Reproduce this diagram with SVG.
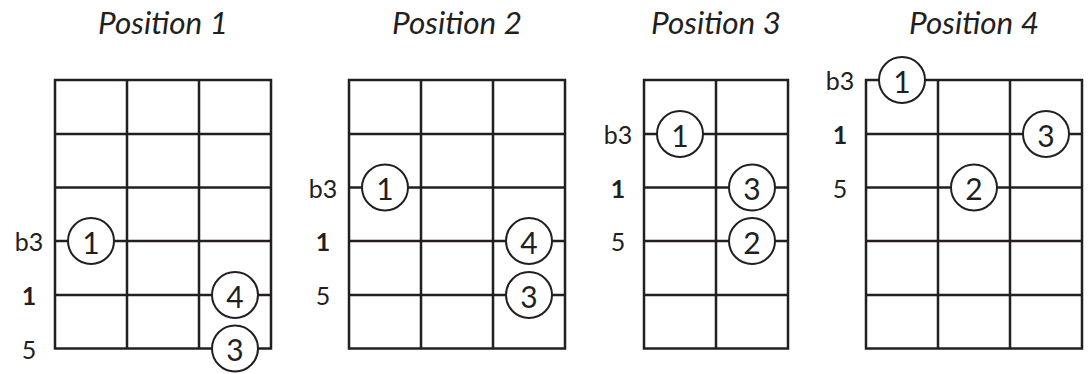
<svg xmlns="http://www.w3.org/2000/svg" width="1088" height="374" viewBox="0 0 1088 374">
<style>
.bg{fill:#ffffff}
.g line,.g rect{stroke:#231f20;stroke-width:2.5;fill:none}
.title{font-family:Lato,"Liberation Sans",sans-serif;font-style:italic;font-size:31.5px;fill:#231f20;text-anchor:middle}
.lab{font-family:Lato,"Liberation Sans",sans-serif;font-size:25px;fill:#231f20;text-anchor:middle}
.root{font-weight:bold}
.dot circle{fill:#ffffff;stroke:#231f20;stroke-width:2}
.dot text{font-family:Lato,"Liberation Sans",sans-serif;font-size:30px;fill:#231f20;text-anchor:middle}
</style>
<rect class="bg" x="0" y="0" width="1088" height="374"/>

<g id="position1">
<text class="title" x="163" y="33.5">Position 1</text>
<g class="g">
<rect x="55" y="80" width="216" height="268.5"/>
<line x1="127" y1="80" x2="127" y2="348.5"/><line x1="199" y1="80" x2="199" y2="348.5"/>
<line x1="55" y1="134" x2="271" y2="134"/><line x1="55" y1="187.5" x2="271" y2="187.5"/>
<line x1="55" y1="241" x2="271" y2="241"/><line x1="55" y1="295" x2="271" y2="295"/>
</g>
<text class="lab" x="29" y="251">b3</text>
<text class="lab root" x="29" y="305">1</text>
<text class="lab" x="29" y="358.5">5</text>
<g id="p1-f1" class="dot"><circle cx="91" cy="241" r="23"/><text x="91" y="253.5">1</text></g>
<g id="p1-f4" class="dot"><circle cx="235" cy="295" r="23"/><text x="235" y="307.5">4</text></g>
<g id="p1-f3" class="dot"><circle cx="235" cy="348.5" r="23"/><text x="235" y="361">3</text></g>
</g>

<g id="position2">
<text class="title" x="457" y="33.5">Position 2</text>
<g class="g">
<rect x="349" y="80" width="216" height="268.5"/>
<line x1="421" y1="80" x2="421" y2="348.5"/><line x1="493" y1="80" x2="493" y2="348.5"/>
<line x1="349" y1="134" x2="565" y2="134"/><line x1="349" y1="187.5" x2="565" y2="187.5"/>
<line x1="349" y1="241" x2="565" y2="241"/><line x1="349" y1="295" x2="565" y2="295"/>
</g>
<text class="lab" x="323" y="197.5">b3</text>
<text class="lab root" x="323" y="251">1</text>
<text class="lab" x="323" y="305">5</text>
<g id="p2-f1" class="dot"><circle cx="385" cy="187.5" r="23"/><text x="385" y="200">1</text></g>
<g id="p2-f4" class="dot"><circle cx="529" cy="241" r="23"/><text x="529" y="253.5">4</text></g>
<g id="p2-f3" class="dot"><circle cx="529" cy="295" r="23"/><text x="529" y="307.5">3</text></g>
</g>

<g id="position3">
<text class="title" x="716" y="33.5">Position 3</text>
<g class="g">
<rect x="644" y="80" width="144" height="268.5"/>
<line x1="716" y1="80" x2="716" y2="348.5"/>
<line x1="644" y1="134" x2="788" y2="134"/><line x1="644" y1="187.5" x2="788" y2="187.5"/>
<line x1="644" y1="241" x2="788" y2="241"/><line x1="644" y1="295" x2="788" y2="295"/>
</g>
<text class="lab" x="618" y="144">b3</text>
<text class="lab root" x="618" y="197.5">1</text>
<text class="lab" x="618" y="251">5</text>
<g id="p3-f1" class="dot"><circle cx="680" cy="134" r="23"/><text x="680" y="146.5">1</text></g>
<g id="p3-f3" class="dot"><circle cx="752" cy="187.5" r="23"/><text x="752" y="200">3</text></g>
<g id="p3-f2" class="dot"><circle cx="752" cy="241" r="23"/><text x="752" y="253.5">2</text></g>
</g>

<g id="position4">
<text class="title" x="974" y="33.5">Position 4</text>
<g class="g">
<rect x="866" y="80" width="216" height="268.5"/>
<line x1="938" y1="80" x2="938" y2="348.5"/><line x1="1010" y1="80" x2="1010" y2="348.5"/>
<line x1="866" y1="134" x2="1082" y2="134"/><line x1="866" y1="187.5" x2="1082" y2="187.5"/>
<line x1="866" y1="241" x2="1082" y2="241"/><line x1="866" y1="295" x2="1082" y2="295"/>
</g>
<text class="lab" x="840" y="90">b3</text>
<text class="lab root" x="840" y="144">1</text>
<text class="lab" x="840" y="197.5">5</text>
<g id="p4-f1" class="dot"><circle cx="902" cy="80" r="23"/><text x="902" y="92.5">1</text></g>
<g id="p4-f3" class="dot"><circle cx="1046" cy="134" r="23"/><text x="1046" y="146.5">3</text></g>
<g id="p4-f2" class="dot"><circle cx="974" cy="187.5" r="23"/><text x="974" y="200">2</text></g>
</g>

<g id="connectors"></g>
</svg>
